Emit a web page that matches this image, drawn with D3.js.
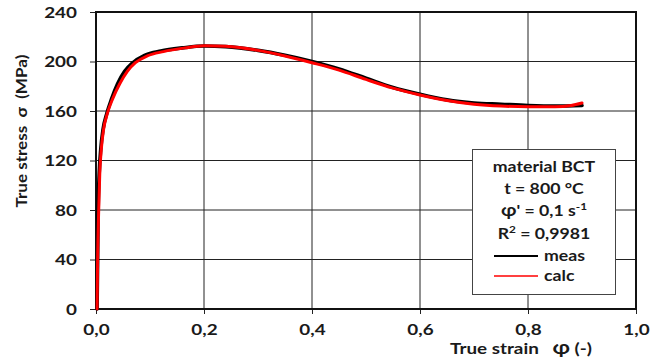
<!DOCTYPE html>
<html>
<head>
<meta charset="utf-8">
<script src="https://cdn.jsdelivr.net/npm/d3@7"></script>
<style>
  html, body { margin: 0; padding: 0; background: #fff; }
  svg text { font-family: Lato, "Open Sans", sans-serif; font-weight: bold; fill: #1a1a1a; }
</style>
</head>
<body>
<svg id="chart" width="662" height="362"></svg>
<script>
// Flow curve of material BCT at 800 °C, strain rate 0.1 1/s
const measStrain = [0.002, 0.003, 0.004, 0.006, 0.009, 0.013, 0.020, 0.029, 0.040, 0.053, 0.068, 0.090, 0.120, 0.160, 0.200, 0.240, 0.300, 0.350, 0.400, 0.450, 0.500, 0.550, 0.600, 0.650, 0.700, 0.750, 0.800, 0.850, 0.900];
const measStress = [0, 40, 80, 110, 130, 145, 158, 170, 182, 192, 199, 205, 208.5, 211, 212.5, 212, 209, 205, 200, 194, 186.5, 179, 173.5, 169, 166.5, 165.5, 164.5, 164, 164.5];

const calcStrain = [0.002, 0.003, 0.005, 0.007, 0.010, 0.014, 0.021, 0.031, 0.044, 0.058, 0.073, 0.095, 0.125, 0.165, 0.200, 0.240, 0.300, 0.350, 0.400, 0.450, 0.500, 0.550, 0.600, 0.650, 0.700, 0.750, 0.800, 0.850, 0.880, 0.900];
const calcStress = [0, 40, 80, 110, 130, 145, 158, 170, 182, 192, 199, 204.5, 208, 211, 212.8, 212.3, 209, 204.5, 199, 193, 185.5, 178.5, 173, 168.5, 165.5, 164, 163.5, 163.5, 164.5, 166.5];

const xTicks = [0, 0.2, 0.4, 0.6, 0.8, 1.0];
const yTicks = [0, 40, 80, 120, 160, 200, 240];

const legendInfo = ["material BCT", "t = 800 °C"];
const rateLabel = { base: "φ' = 0,1 s", sup: "-1" };
const r2Label = { base: "R", sup: "2", rest: " = 0,9981" };
const seriesNames = ["meas", "calc"];
const seriesColors = ["#000000", "#ff0000"];

const svg = d3.select("#chart");
const m = { left: 96, right: 26, top: 12, bottom: 53 };
const W = 662, H = 362;

const x = d3.scaleLinear().domain([0, 1]).range([m.left, W - m.right]);
const y = d3.scaleLinear().domain([0, 240]).range([H - m.bottom, m.top]);

const fmt = d => d3.format(".1f")(d).replace(".", ",");

// widen glyphs horizontally (wide bold face)
function widen(sel, k) {
  sel.each(function () {
    const w = this.getComputedTextLength();
    d3.select(this).attr("textLength", w * k).attr("lengthAdjust", "spacingAndGlyphs");
  });
}

// grid
svg.append("g")
  .selectAll("line").data(xTicks.slice(1, -1)).join("line")
  .attr("x1", d => x(d)).attr("x2", d => x(d))
  .attr("y1", y(0)).attr("y2", y(240))
  .attr("stroke", "#222").attr("stroke-width", 1);
svg.append("g")
  .selectAll("line").data(yTicks.slice(1, -1)).join("line")
  .attr("x1", x(0)).attr("x2", x(1))
  .attr("y1", d => y(d)).attr("y2", d => y(d))
  .attr("stroke", "#222").attr("stroke-width", 1);

// axes
const xAxis = svg.append("g").attr("transform", `translate(0,${y(0)})`)
  .call(d3.axisBottom(x).tickValues(xTicks).tickFormat(fmt).tickSize(5).tickPadding(10));
const yAxis = svg.append("g").attr("transform", `translate(${x(0)},0)`)
  .call(d3.axisLeft(y).tickValues(yTicks).tickSize(6).tickPadding(13));
[xAxis, yAxis].forEach(a => {
  a.select(".domain").remove();
  a.selectAll(".tick line").attr("stroke", "#222").attr("stroke-width", 1);
  a.selectAll(".tick text").attr("font-size", 16).attr("fill", "#1a1a1a")
    .attr("font-family", "Lato, sans-serif").attr("font-weight", "bold");
  widen(a.selectAll(".tick text"), 1.18);
});

// plot frame
svg.append("rect")
  .attr("x", x(0)).attr("y", y(240))
  .attr("width", x(1) - x(0)).attr("height", y(0) - y(240))
  .attr("fill", "none").attr("stroke", "#111").attr("stroke-width", 2);

// curves
const line = d3.line().curve(d3.curveMonotoneX).x(d => x(d[0])).y(d => y(d[1]));
const meas = d3.zip(measStrain, measStress);
const calc = d3.zip(calcStrain, calcStress);
svg.append("path").datum(meas).attr("d", line)
  .attr("fill", "none").attr("stroke", seriesColors[0]).attr("stroke-width", 3.6)
  .attr("stroke-linejoin", "round").attr("stroke-linecap", "round");
svg.append("path").datum(calc).attr("d", line)
  .attr("fill", "none").attr("stroke", seriesColors[1]).attr("stroke-width", 3)
  .attr("stroke-linejoin", "round").attr("stroke-linecap", "round");

// axis titles
const yTitle = svg.append("text")
  .attr("transform", `translate(27,131) rotate(-90)`)
  .attr("text-anchor", "middle").attr("font-size", 15)
  .attr("xml:space", "preserve")
  .text("True stress  σ  (MPa)");
yTitle.attr("textLength", 153).attr("lengthAdjust", "spacingAndGlyphs");
const xTitle = svg.append("text")
  .attr("x", 450).attr("y", 354).attr("font-size", 15)
  .attr("xml:space", "preserve");
xTitle.append("tspan").text("True strain   ");
xTitle.append("tspan").attr("font-size", 18).text("φ");
xTitle.append("tspan").text(" (-)");
xTitle.attr("textLength", 142).attr("lengthAdjust", "spacingAndGlyphs");

// legend box
const lg = svg.append("g");
lg.append("rect").attr("x", 472.5).attr("y", 149.5).attr("width", 143).attr("height", 145)
  .attr("fill", "#fff").attr("stroke", "#444").attr("stroke-width", 1);
const cx = 544;
const lineY = [172, 193.5, 216, 238.5];
const l1 = lg.append("text").attr("x", cx).attr("y", lineY[0]).attr("text-anchor", "middle").attr("font-size", 15).text(legendInfo[0]);
const l2 = lg.append("text").attr("x", cx).attr("y", lineY[1]).attr("text-anchor", "middle").attr("font-size", 15).text(legendInfo[1]);
const t3 = lg.append("text").attr("x", cx).attr("y", lineY[2]).attr("text-anchor", "middle").attr("font-size", 15);
t3.append("tspan").attr("font-size", 17).text(rateLabel.base.slice(0, 1));
t3.append("tspan").text(rateLabel.base.slice(1));
t3.append("tspan").attr("font-size", 10).attr("dy", -6).text(rateLabel.sup);
const t4 = lg.append("text").attr("x", cx).attr("y", lineY[3]).attr("text-anchor", "middle").attr("font-size", 15);
t4.append("tspan").text(r2Label.base);
t4.append("tspan").attr("font-size", 10).attr("dy", -6).text(r2Label.sup);
t4.append("tspan").attr("dy", 6).text(r2Label.rest);
widen(d3.selectAll([l1.node(), l2.node(), t3.node(), t4.node()]), 1.18);

const entryY = [256, 276];
seriesNames.forEach((name, i) => {
  lg.append("line").attr("x1", 494).attr("x2", 538).attr("y1", entryY[i]).attr("y2", entryY[i])
    .attr("stroke", seriesColors[i]).attr("stroke-width", i === 0 ? 2 : 1.5);
  const t = lg.append("text").attr("x", 544).attr("y", entryY[i] + 4.5).attr("font-size", 15).text(name);
  widen(t, 1.18);
});
</script>
</body>
</html>
